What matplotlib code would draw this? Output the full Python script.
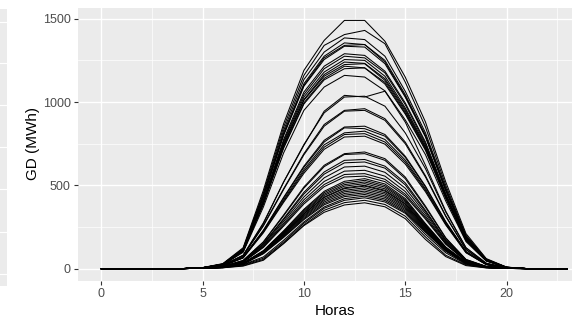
import matplotlib
matplotlib.use("Agg")
import matplotlib.pyplot as plt

# Hours of the day
horas = list(range(24))

# Hourly generation (MWh) for hours 5..20 of each day; hours 0-4 and 21-23 are 0
dias_altos = [
    [6, 30, 125, 470, 870, 1190, 1370, 1490, 1490, 1365, 1150, 880, 520, 210, 60, 9],
    [6, 28, 120, 455, 850, 1160, 1340, 1405, 1430, 1350, 1120, 850, 500, 200, 57, 8],
    [5, 27, 118, 445, 830, 1135, 1300, 1385, 1375, 1275, 1065, 815, 485, 195, 55, 8],
    [5, 27, 115, 435, 815, 1110, 1275, 1355, 1345, 1250, 1045, 800, 475, 190, 54, 8],
    [5, 26, 114, 430, 805, 1100, 1265, 1340, 1345, 1240, 1035, 795, 470, 188, 52, 8],
    [5, 26, 113, 428, 800, 1095, 1255, 1335, 1330, 1230, 1030, 790, 468, 185, 52, 8],
    [5, 25, 110, 413, 775, 1060, 1215, 1290, 1280, 1185, 995, 760, 450, 180, 50, 7],
    [5, 25, 108, 408, 765, 1045, 1200, 1275, 1265, 1175, 985, 750, 445, 178, 50, 7],
    [5, 24, 107, 402, 755, 1030, 1180, 1255, 1250, 1155, 965, 740, 440, 175, 49, 7],
    [5, 24, 105, 397, 745, 1015, 1165, 1240, 1232, 1140, 955, 730, 435, 173, 48, 7],
    [5, 24, 104, 394, 740, 1010, 1155, 1225, 1230, 1130, 945, 725, 430, 172, 48, 7],
    [5, 23, 103, 390, 730, 995, 1142, 1215, 1205, 1118, 935, 717, 425, 170, 47, 7],
    [5, 23, 102, 386, 723, 988, 1133, 1200, 1205, 1108, 928, 710, 422, 168, 47, 7],
    [4, 22, 98, 370, 695, 950, 1090, 1160, 1150, 1067, 893, 684, 406, 162, 45, 7],
]

dias_medios = [
    [4, 20, 80, 270, 520, 740, 945, 1040, 1030, 1065, 880, 620, 345, 125, 32, 5],
    [4, 20, 80, 275, 520, 745, 935, 1030, 1035, 975, 815, 600, 340, 125, 32, 5],
    [4, 19, 77, 260, 480, 690, 865, 950, 960, 900, 760, 557, 317, 115, 29, 5],
    [4, 19, 76, 256, 475, 683, 855, 945, 950, 890, 750, 550, 313, 114, 29, 5],
    [3, 17, 68, 230, 428, 615, 770, 850, 855, 805, 675, 495, 282, 103, 26, 4],
    [3, 17, 68, 228, 423, 608, 760, 845, 840, 795, 668, 490, 279, 101, 25, 4],
    [3, 16, 66, 223, 413, 594, 743, 815, 825, 775, 652, 478, 272, 99, 25, 4],
    [3, 16, 65, 219, 405, 583, 729, 805, 810, 760, 640, 470, 267, 97, 24, 4],
    [3, 16, 64, 215, 398, 572, 716, 790, 795, 747, 628, 461, 262, 95, 24, 4],
]

dias_intermedios = [
    [3, 13, 49, 161, 322, 490, 620, 690, 700, 660, 550, 375, 185, 55, 13, 2],
    [3, 13, 48, 158, 317, 483, 612, 685, 690, 650, 540, 368, 182, 54, 13, 2],
    [3, 12, 45, 150, 300, 458, 580, 650, 655, 615, 515, 350, 172, 51, 12, 2],
    [3, 12, 44, 147, 294, 448, 567, 635, 640, 603, 503, 342, 168, 50, 12, 2],
    [2, 11, 42, 141, 283, 430, 545, 610, 615, 578, 483, 330, 162, 48, 11, 2],
    [2, 11, 40, 135, 271, 413, 523, 585, 590, 555, 463, 316, 155, 46, 11, 2],
    [2, 10, 39, 130, 262, 399, 505, 565, 570, 536, 447, 305, 150, 44, 10, 2],
    [2, 10, 38, 127, 255, 388, 492, 550, 555, 522, 436, 297, 146, 43, 10, 2],
]

dias_bajos = [
    [2, 8, 32, 108, 227, 356, 464, 524, 540, 508, 421, 270, 130, 38, 8, 2],
    [2, 8, 32, 106, 223, 350, 456, 514, 530, 498, 413, 265, 127, 37, 8, 2],
    [2, 8, 31, 104, 218, 343, 447, 504, 520, 489, 406, 260, 125, 36, 8, 2],
    [2, 8, 31, 102, 214, 337, 439, 495, 510, 479, 398, 255, 122, 36, 8, 2],
    [2, 8, 30, 100, 210, 330, 430, 485, 500, 470, 390, 250, 120, 35, 8, 2],
    [2, 7, 30, 99, 208, 327, 426, 480, 495, 465, 386, 248, 119, 35, 7, 1],
    [2, 7, 29, 97, 204, 320, 417, 470, 485, 456, 378, 243, 116, 34, 7, 1],
    [2, 7, 29, 95, 200, 314, 409, 461, 475, 447, 371, 238, 114, 33, 7, 1],
    [2, 7, 28, 93, 195, 307, 400, 451, 465, 437, 363, 233, 112, 33, 7, 1],
    [2, 7, 27, 91, 191, 300, 391, 441, 455, 428, 355, 228, 109, 32, 7, 1],
    [2, 7, 27, 89, 187, 294, 383, 432, 445, 418, 347, 223, 107, 31, 7, 1],
    [2, 6, 24, 70, 170, 280, 370, 420, 435, 409, 339, 218, 104, 30, 7, 1],
    [2, 6, 22, 62, 160, 272, 362, 410, 425, 400, 332, 205, 95, 26, 6, 1],
    [2, 5, 18, 55, 152, 262, 350, 396, 410, 385, 315, 190, 80, 22, 5, 1],
    [2, 5, 15, 50, 150, 258, 338, 382, 395, 371, 300, 175, 72, 18, 4, 1],
]

x_ticks = [0, 5, 10, 15, 20]
y_ticks = [0, 500, 1000, 1500]
x_label = "Horas"
y_label = "GD (MWh)"

W, H = 572, 323
fig = plt.figure(figsize=(W / 100, H / 100), dpi=100)
plt.rcParams['font.family'] = ['Liberation Sans', 'DejaVu Sans']


def px_box(x0, y0, x1, y1):
    return [x0 / W, 1 - y1 / H, (x1 - x0) / W, (y1 - y0) / H]


# partial neighbouring panel at the left edge
ax0 = fig.add_axes(px_box(-60, 9, 7, 286))
ax0.set_facecolor('#EBEBEB')
ax0.set_ylim(286, 9)
ax0.set_xlim(0, 1)
ax0.set_yticks([22, 63, 105, 147, 189, 232, 274])
ax0.set_xticks([])
ax0.tick_params(left=False, labelleft=False)
ax0.grid(axis='y', color='white', lw=0.8)
for s in ax0.spines.values():
    s.set_visible(False)

# main panel
ax = fig.add_axes(px_box(78, 8, 590.6, 281))
ax.set_facecolor('#EBEBEB')
ax.set_axisbelow(True)

todas = dias_altos + dias_medios + dias_intermedios + dias_bajos
ymax = 0
for serie in todas:
    valores = [0, 0, 0, 0, 0] + serie + [0, 0, 0]
    ax.plot(horas, valores, color='black', lw=0.75)
    ymax = max(ymax, max(valores))

xr = horas[-1] - horas[0]
ax.set_xlim(horas[0] - 0.05 * xr, horas[-1] + 0.05 * xr)
ax.set_ylim(-0.05 * ymax, ymax * 1.05)

ax.set_xticks(x_ticks)
ax.set_yticks(y_ticks)
ax.set_xticks([2.5, 7.5, 12.5, 17.5, 22.5], minor=True)
ax.set_yticks([250, 750, 1250], minor=True)
ax.grid(which='major', color='white', lw=1.0)
ax.grid(which='minor', color='white', lw=0.5)
ax.tick_params(which='minor', length=0)
ax.tick_params(which='major', length=3, width=0.8, color='#333333',
               labelcolor='#4D4D4D', labelsize=9, pad=2.2)
for s in ax.spines.values():
    s.set_visible(False)

fig.text(335 / W, 1 - 311 / H, x_label, ha='center', va='center', fontsize=11, color='black')
fig.text(33 / W, 1 - 144 / H, y_label, ha='center', va='center', rotation=90,
         fontsize=11, color='black')

fig.savefig('out.png', dpi=100)
